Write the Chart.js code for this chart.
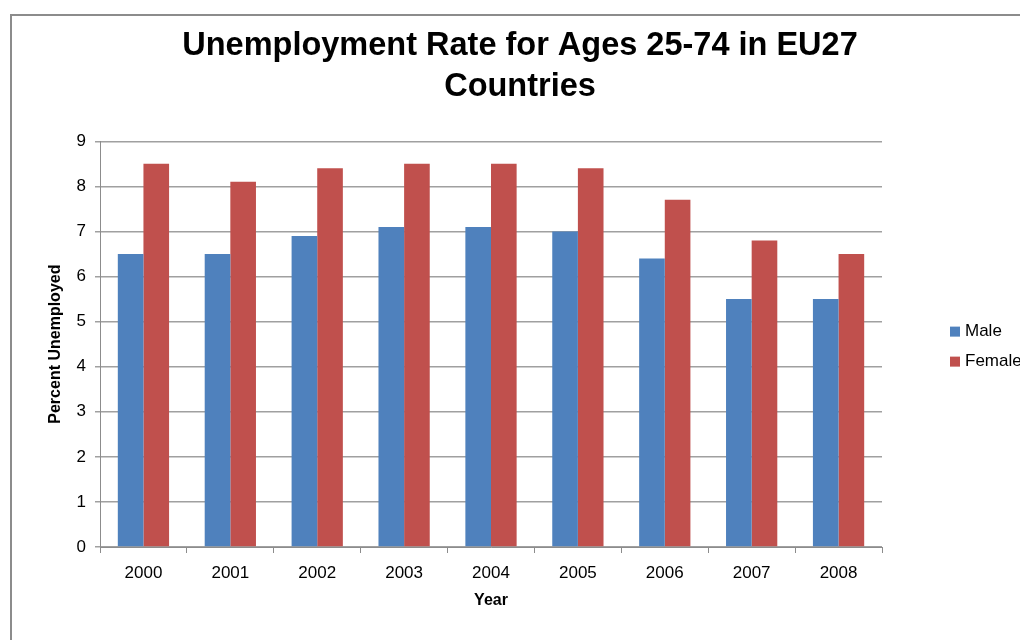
<!DOCTYPE html>
<html>
<head>
<meta charset="utf-8">
<script src="https://cdn.jsdelivr.net/npm/chart.js@4/dist/chart.umd.min.js"></script>
<style>
  html, body { margin: 0; padding: 0; background: #fff; overflow: hidden; }
  #frame {
    position: absolute; left: 10px; top: 14px;
    border-left: 2px solid #8c8c8c; border-top: 2px solid #8c8c8c;
    width: 1016px; height: 640px;
  }
  #box { position: relative; width: 1016px; height: 624px; }
</style>
</head>
<body>
<div id="frame"><div id="box"><canvas id="chart"></canvas></div></div>
<script>
const years = ['2000', '2001', '2002', '2003', '2004', '2005', '2006', '2007', '2008'];
const maleRate = [6.5, 6.5, 6.9, 7.1, 7.1, 7.0, 6.4, 5.5, 5.5];
const femaleRate = [8.5, 8.1, 8.4, 8.5, 8.5, 8.4, 7.7, 6.8, 6.5];
const yMax = 9;

const FONT = '"Liberation Sans", Arial, sans-serif';

// legend drawn to the right of the plot, like the Excel original
const sideLegend = {
    id: 'sideLegend',
    afterDraw(chart) {
        const ctx = chart.ctx;
        const area = chart.chartArea;
        const midY = (area.top + area.bottom) / 2 + 2.5;
        ctx.save();
        ctx.font = '17px ' + FONT;
        ctx.textBaseline = 'middle';
        chart.data.datasets.forEach((ds, i) => {
            const y = midY + (i - 0.5) * 30;
            ctx.fillStyle = ds.backgroundColor;
            ctx.fillRect(area.right + 68, y - 5, 10, 10);
            ctx.fillStyle = '#000';
            ctx.fillText(ds.label, area.right + 83, y);
        });
        ctx.restore();
    }
};

new Chart(document.getElementById('chart').getContext('2d'), {
    type: 'bar',
    data: {
        labels: years,
        datasets: [
            { label: 'Male', data: maleRate, backgroundColor: '#4F81BD' },
            { label: 'Female', data: femaleRate, backgroundColor: '#C0504D' }
        ]
    },
    options: {
        responsive: true,
        maintainAspectRatio: false,
        animation: false,
        categoryPercentage: 0.59,
        barPercentage: 1.0,
        layout: { padding: { left: 0, right: 0, top: 0, bottom: 26 } },
        plugins: {
            legend: { display: false },
            tooltip: { enabled: false },
            title: {
                display: true,
                text: ['Unemployment Rate for Ages 25-74 in EU27', 'Countries'],
                color: '#000',
                font: { family: FONT, size: 32.5, weight: 'bold', lineHeight: 1.25 },
                padding: { top: 10, bottom: 34 }
            }
        },
        scales: {
            x: {
                grid: { offset: true, drawOnChartArea: false, color: '#8c8c8c', tickLength: 6 },
                border: { color: '#8c8c8c' },
                ticks: { color: '#000', font: { family: FONT, size: 17 }, padding: 10, maxRotation: 0 },
                title: { display: true, text: 'Year', color: '#000', font: { family: FONT, size: 16, weight: 'bold' } },
                afterFit(scale) { scale.height = 67; }
            },
            y: {
                min: 0,
                max: yMax,
                grid: { color: '#a0a0a0', lineWidth: 1.5, tickLength: 5 },
                border: { color: '#8c8c8c' },
                ticks: { stepSize: 1, color: '#000', font: { family: FONT, size: 17 }, padding: 9 },
                title: {
                    display: true, text: 'Percent Unemployed', color: '#000',
                    font: { family: FONT, size: 16, weight: 'bold' },
                    padding: { top: 34, bottom: 4 }
                },
                afterFit(scale) { scale.width = 88; }
            },
            // empty right-hand axis that reserves room for the legend
            yRight: {
                position: 'right',
                min: 0,
                max: yMax,
                grid: { display: false },
                border: { display: false },
                ticks: { display: false },
                afterFit(scale) { scale.width = 146; }
            }
        }
    },
    plugins: [sideLegend]
});
</script>
</body>
</html>
